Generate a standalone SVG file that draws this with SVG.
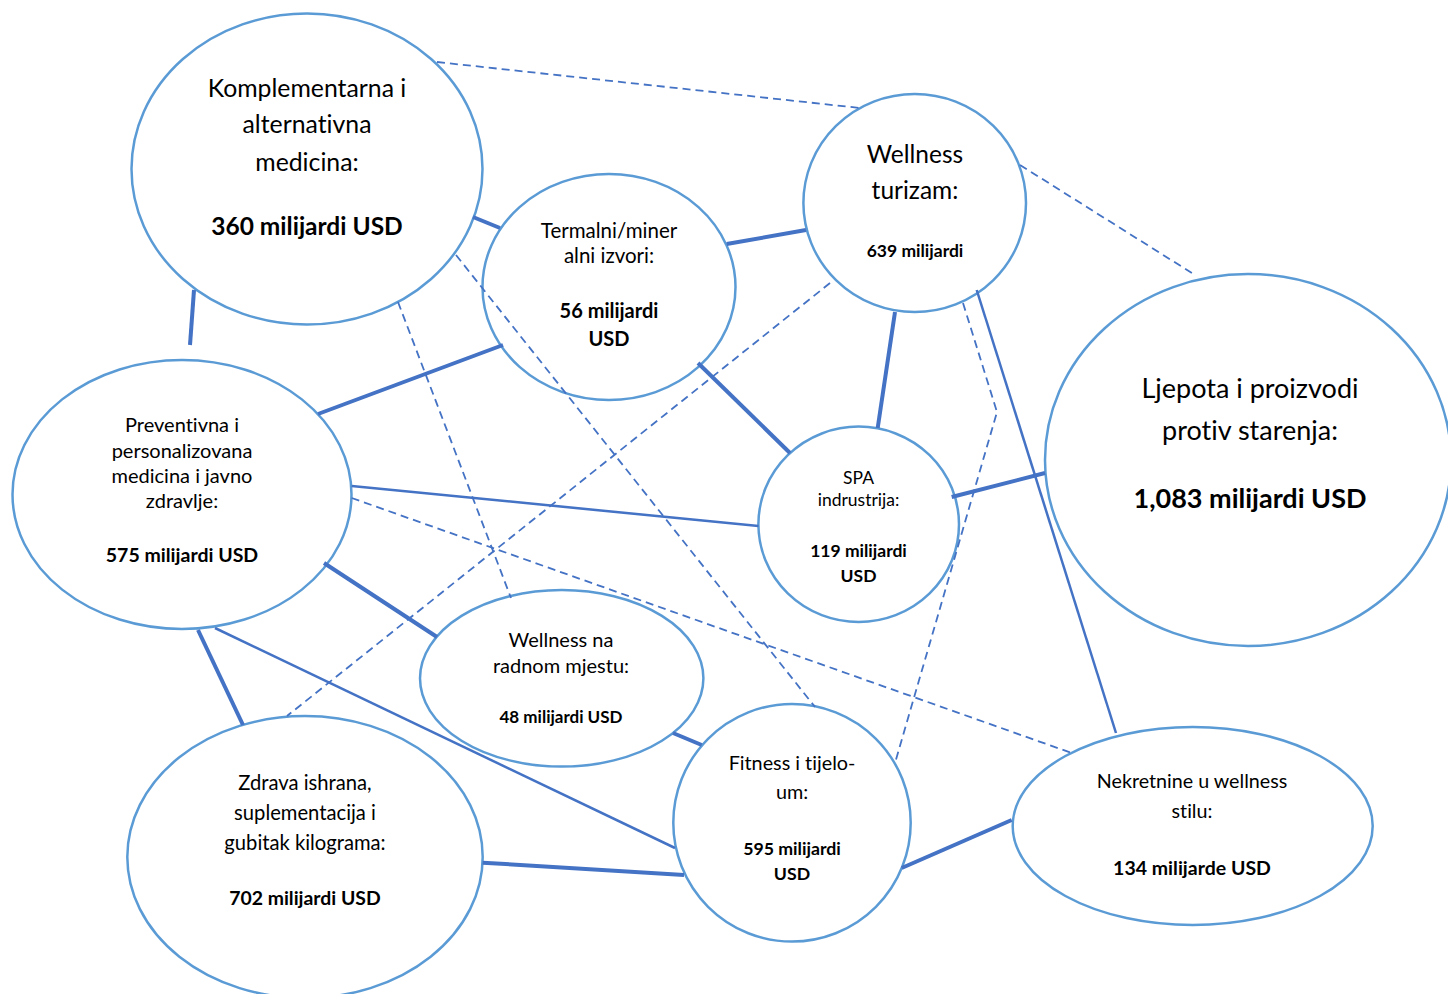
<svg xmlns="http://www.w3.org/2000/svg" width="1448" height="994" viewBox="0 0 1448 994">
<style>
.node ellipse{fill:#fff;stroke:#5B9BD5;stroke-width:2.5}
text{font-family:Lato,"Liberation Sans",sans-serif;fill:#000;text-anchor:middle;font-variant-ligatures:none}
.b{font-weight:bold}
.c line,.c polyline{stroke:#4472C4;fill:none}
.thick{stroke-width:4}
.thin{stroke-width:2.5}
.dash{stroke-width:1.8;stroke-dasharray:8 5}
</style>
<rect width="1448" height="994" fill="#fff"/>
<g id="n-komplementarna" class="node">
<ellipse cx="307" cy="169" rx="175.5" ry="155.5"/>
<text x="307" y="96.7" font-size="24.8">Komplementarna i</text>
<text x="307" y="133.3" font-size="24.8">alternativna</text>
<text x="307" y="170.7" font-size="24.8">medicina:</text>
<text x="307" y="235" font-size="24.5" class="b">360 milijardi USD</text>
</g>
<g id="n-wellness-turizam" class="node">
<ellipse cx="914.7" cy="203" rx="111.3" ry="109"/>
<text x="915" y="162.7" font-size="24.5">Wellness</text>
<text x="915" y="199.3" font-size="24.5">turizam:</text>
<text x="915" y="256.7" font-size="17.5" class="b">639 milijardi</text>
</g>
<g id="n-termalni" class="node">
<ellipse cx="609" cy="287" rx="126.5" ry="113"/>
<text x="609" y="237.7" font-size="20.5">Termalni/miner</text>
<text x="609" y="263.3" font-size="20.5">alni izvori:</text>
<text x="609" y="317.7" font-size="20" class="b">56 milijardi</text>
<text x="609" y="346" font-size="20" class="b">USD</text>
</g>
<g id="n-ljepota" class="node">
<ellipse cx="1248" cy="460" rx="203" ry="186"/>
<text x="1250" y="398.3" font-size="27">Ljepota i proizvodi</text>
<text x="1250" y="440" font-size="27">protiv starenja:</text>
<text x="1250" y="508.3" font-size="27" class="b">1,083 milijardi USD</text>
</g>
<g id="n-preventivna" class="node">
<ellipse cx="182" cy="494.5" rx="169.5" ry="134.5"/>
<text x="182" y="431.7" font-size="20">Preventivna i</text>
<text x="182" y="458.3" font-size="20">personalizovana</text>
<text x="182" y="483.3" font-size="20">medicina i javno</text>
<text x="182" y="508.3" font-size="20">zdravlje:</text>
<text x="182" y="561.7" font-size="19.5" class="b">575 milijardi USD</text>
</g>
<g id="n-spa" class="node">
<ellipse cx="858.7" cy="524.3" rx="100.3" ry="97.7"/>
<text x="858.5" y="484" font-size="17.5">SPA</text>
<text x="858.5" y="506" font-size="17.5">indrustrija:</text>
<text x="858.5" y="556.7" font-size="17.5" class="b">119 milijardi</text>
<text x="858.5" y="581.7" font-size="17.5" class="b">USD</text>
</g>
<g id="n-wellness-radnom" class="node">
<ellipse cx="561.7" cy="678.3" rx="141.7" ry="88.3"/>
<text x="561" y="646.7" font-size="20">Wellness na</text>
<text x="561" y="673.3" font-size="20">radnom mjestu:</text>
<text x="561" y="723.3" font-size="17" class="b">48 milijardi USD</text>
</g>
<g id="n-fitness" class="node">
<ellipse cx="792" cy="822.8" rx="118.7" ry="118.8"/>
<text x="792" y="770" font-size="19.8">Fitness i tijelo-</text>
<text x="792" y="799.3" font-size="19.8">um:</text>
<text x="792" y="855" font-size="17.7" class="b">595 milijardi</text>
<text x="792" y="880" font-size="17.7" class="b">USD</text>
</g>
<g id="n-zdrava" class="node">
<ellipse cx="305" cy="857" rx="177.7" ry="141"/>
<text x="305" y="790" font-size="20.2">Zdrava ishrana,</text>
<text x="305" y="820" font-size="20.2">suplementacija i</text>
<text x="305" y="850" font-size="20.2">gubitak kilograma:</text>
<text x="305" y="905" font-size="19.4" class="b">702 milijardi USD</text>
</g>
<g id="n-nekretnine" class="node">
<ellipse cx="1192.7" cy="826" rx="180" ry="99"/>
<text x="1192" y="788.3" font-size="19.7">Nekretnine u wellness</text>
<text x="1192" y="818.3" font-size="19.7">stilu:</text>
<text x="1192" y="875" font-size="19.5" class="b">134 milijarde USD</text>
</g>
<g id="connectors" class="c">
<line class="dash" x1="437" y1="62" x2="860" y2="108"/>
<line class="dash" x1="1020" y1="165" x2="1195" y2="275"/>
<line class="dash" x1="456" y1="255" x2="815" y2="707"/>
<line class="dash" x1="398" y1="302" x2="511" y2="598"/>
<line class="dash" x1="830" y1="283" x2="287" y2="716"/>
<polyline class="dash" points="963,303 997,412 895,763"/>
<line class="dash" x1="351.7" y1="498" x2="1071.7" y2="753"/>
<line class="thick" x1="473" y1="217" x2="500" y2="228"/>
<line class="thick" x1="726.7" y1="244" x2="806" y2="230"/>
<line class="thick" x1="194" y1="290" x2="190" y2="345"/>
<line class="thick" x1="318" y1="414" x2="503" y2="345"/>
<line class="thick" x1="698" y1="363" x2="790" y2="453"/>
<line class="thick" x1="895" y1="312" x2="877.7" y2="428"/>
<line class="thick" x1="951.7" y1="497" x2="1045" y2="473"/>
<line class="thick" x1="324" y1="563" x2="437" y2="637"/>
<line class="thick" x1="198" y1="630" x2="243" y2="725"/>
<line class="thick" x1="673" y1="733" x2="701.7" y2="745"/>
<line class="thick" x1="482.7" y1="862.7" x2="684" y2="875"/>
<line class="thick" x1="901.7" y1="868" x2="1011.7" y2="820"/>
<line class="thin" x1="351.7" y1="486" x2="758.5" y2="526"/>
<line class="thin" x1="215" y1="628" x2="675" y2="848"/>
<line class="thin" x1="976.7" y1="290" x2="1116" y2="733"/>
</g>
</svg>
